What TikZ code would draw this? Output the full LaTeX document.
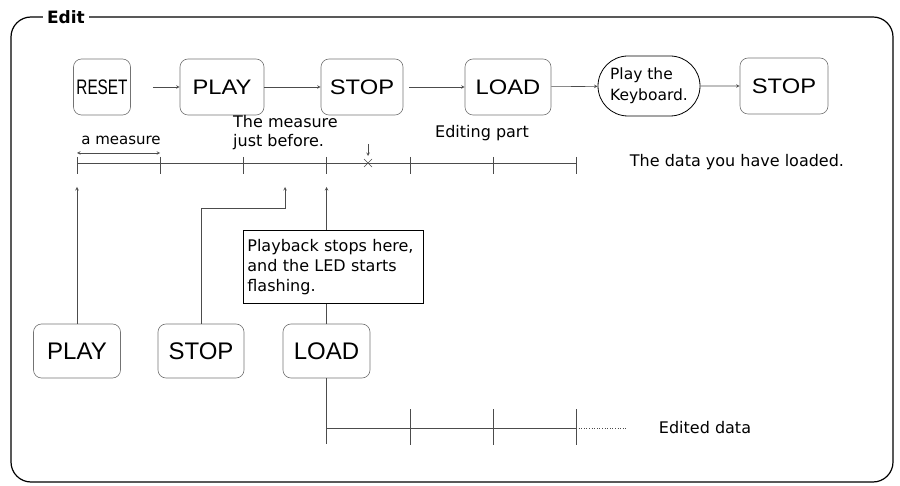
\documentclass[tikz,border=0pt]{standalone}
\usepackage{fontspec}
\setmainfont{DejaVu Sans}
\newfontfamily\keyfont{Liberation Sans}
\usetikzlibrary{positioning, arrows, shapes.misc}
\newcommand{\widekey}[1]{\scalebox{1.13}[1]{#1}}

\begin{document}
\begin{tikzpicture}[x=1pt, y=-1pt, >=stealth,
        line/.style={draw=black!70, line width=0.6pt},
        key/.style={draw=black!55, line width=0.6pt, rounded corners=8pt, minimum width=84pt, minimum height=56pt, inner sep=0pt, font=\keyfont\fontsize{21}{21}\selectfont},
        bigkey/.style={key, minimum width=87pt, minimum height=54pt, font=\keyfont\fontsize{24}{24}\selectfont},
        txt/.style={inner sep=0pt, font=\fontsize{16}{19}\selectfont}]
        \useasboundingbox (0,0) rectangle (900,486);

        % frame
        \node[inner sep=4pt, font=\bfseries\fontsize{17}{17}\selectfont] (title) at (66,17) {Edit};
        \draw[line width=1.2pt, rounded corners=20pt] (title.west) -- (11,17) -- (11,482) -- (893,482) -- (893,17) -- (title.east);

        % key sequence
        \node[key, minimum width=57pt] (reset) at (102,87) {\scalebox{0.73}[1]{RESET}};
        \node[key] (play) at (222,87) {\widekey{PLAY}};
        \node[key, minimum width=82pt] (stop) at (362,87) {\widekey{STOP}};
        \node[key, minimum width=86pt] (load) at (508,87) {\widekey{LOAD}};
        \node[draw, line width=0.8pt, rounded rectangle, minimum width=102pt, minimum height=60pt, align=left, txt, font=\fontsize{15.5}{21}\selectfont] (kbd) at (649,86) {Play the\\Keyboard.};
        \node[key, minimum width=88pt] (stop2) at (784,86) {\widekey{STOP}};

        \draw[line, ->, shorten <=22pt] (reset) -- (play);
        \draw[line, ->] (play) -- (stop);
        \draw[line, ->, shorten <=6pt] (stop) -- (load);
        \draw[line, ->] (load) -- (kbd);
        \draw[line, ->] (kbd) -- (stop2);

        % loaded data
        \foreach \i in {0,...,6} {
            \coordinate (t\i) at (77+83.2*\i,163);
            \draw[line] (t\i) ++(0,-6) -- ++(0,17);
        }
        \draw[line] (t0) -- (t6);
        \draw[line, <->] ([yshift=10pt]t0) -- ([yshift=10pt]t1);
        \node[txt, font=\fontsize{15}{18}\selectfont] (meas) at (121,140) {a measure};
        \node[txt, align=left, anchor=west] (before) at (233,133) {The measure\\just before.};
        \node[txt] (editing) at (482,133) {Editing part};
        \node[txt] (loaded) at (737,162) {The data you have loaded.};

        \coordinate (cut) at (368,163);
        \draw[line] (cut) ++(-4,-4) -- ++(8,8) (cut) ++(-4,4) -- ++(8,-8);
        \draw[line, ->] ([yshift=19pt]cut) -- ([yshift=7pt]cut);

        % keys pressed while editing
        \node[bigkey] (pB) at (77,351) {PLAY};
        \node[bigkey, minimum width=86pt] (sB) at (201,351) {STOP};
        \node[bigkey] (lB) at (326.5,351) {LOAD};

        \coordinate (up0) at (77,187);
        \coordinate (upmb) at (285,187);
        \coordinate (upld) at (326.5,187);
        \coordinate (bend) at (285,208);

        \node[draw, line width=0.8pt, txt, align=left, anchor=north west, text width=172pt, inner sep=4pt, minimum height=73pt, font=\fontsize{16}{20}\selectfont] (note) at (243,230) {Playback stops here,\\and the LED starts\\flashing.};

        \draw[line, ->] (pB) -- (up0);
        \draw[line, ->] (sB.north) |- (bend) -- (upmb);
        \draw[line, ->] (note.north -| lB) -- (upld);
        \draw[line] (note.south -| lB) -- (lB);

        % edited data
        \coordinate (edbot) at (326.5,444);
        \coordinate (e0) at (326.5,428);
        \coordinate (e1) at (410,428);
        \coordinate (e2) at (493,428);
        \coordinate (e3) at (576,428);
        \coordinate (eend) at (626,428);
        \draw[line] (lB) -- (edbot);
        \draw[line] (e0) -- (e3);
        \draw[line, dotted] (e3) -- (eend);
        \foreach \j in {1,2,3}
            \draw[line] (e\j) ++(0,-19) -- ++(0,36);
        \node[txt] (edited) at (705,428) {Edited data};
    \end{tikzpicture}
\end{document}
